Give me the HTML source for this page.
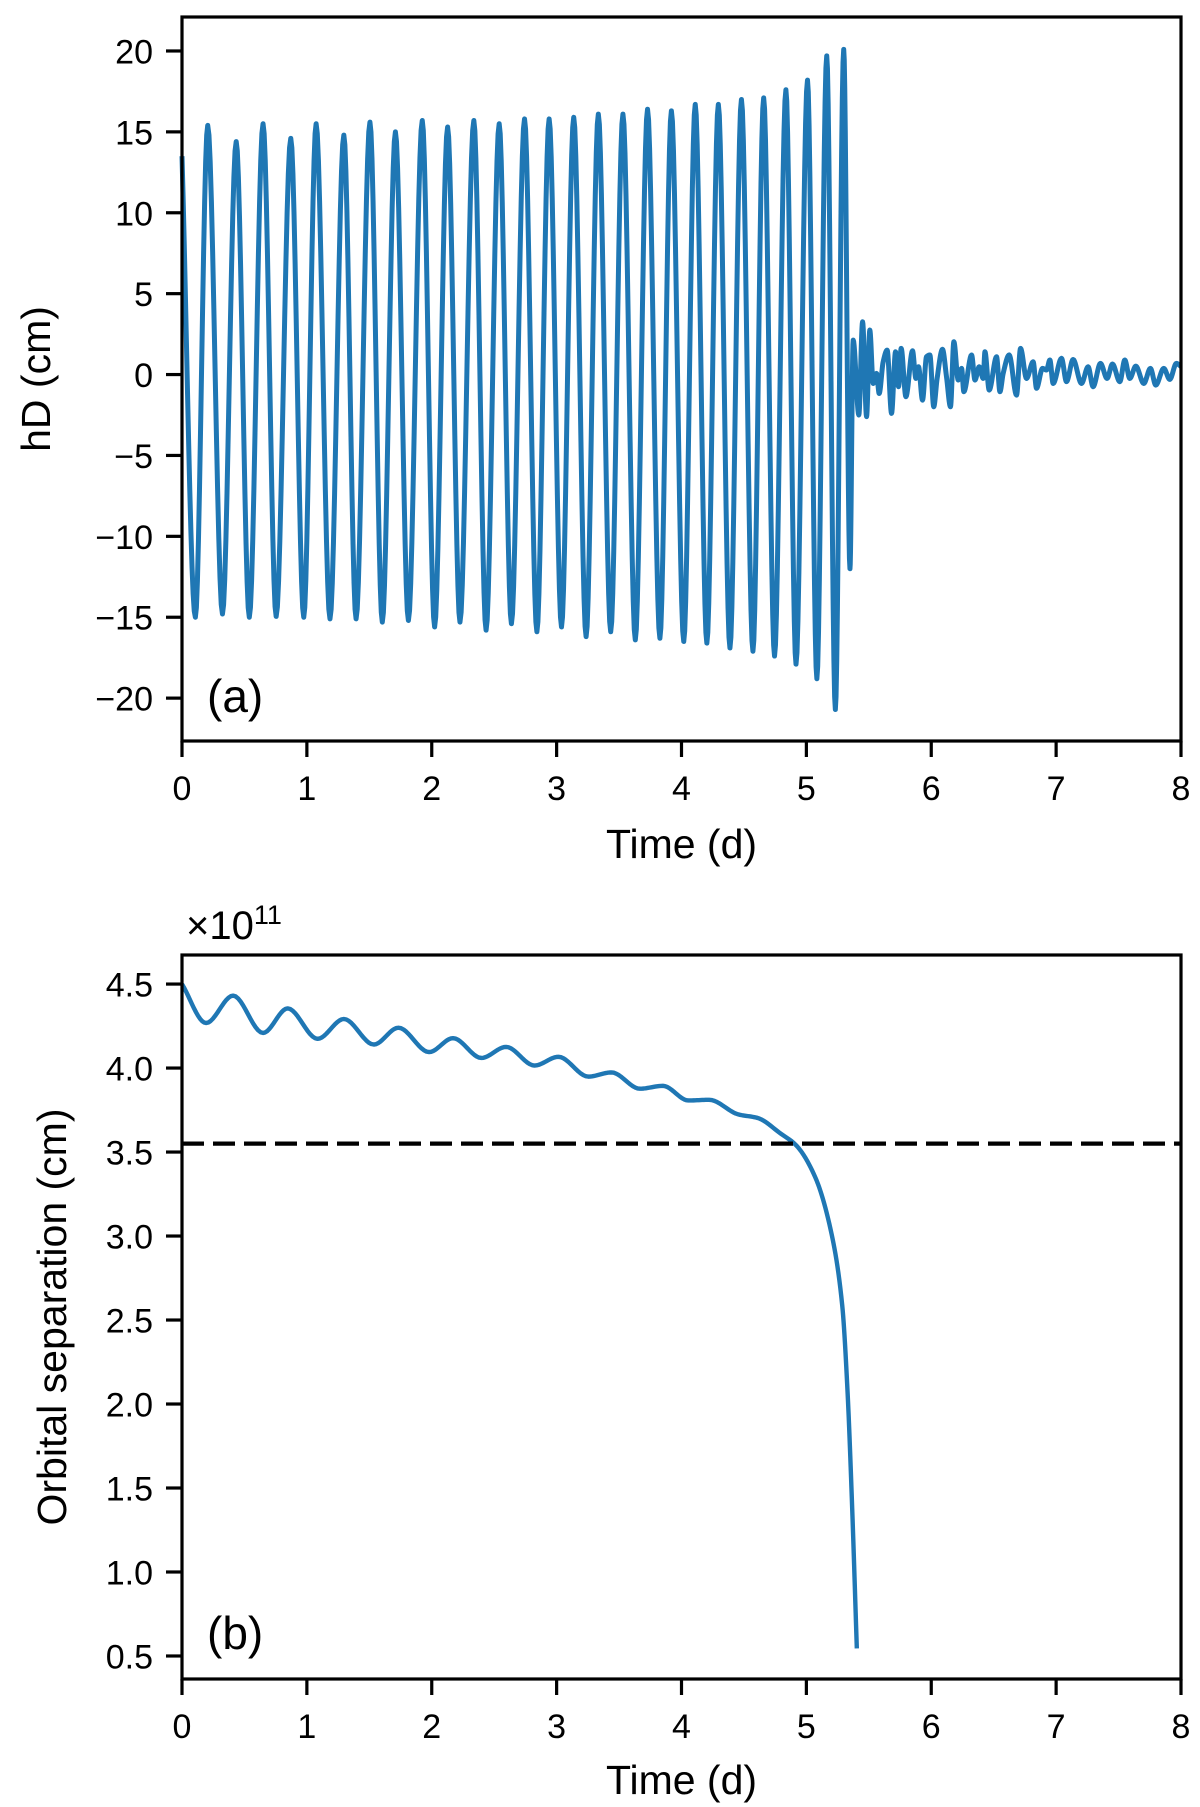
<!DOCTYPE html>
<html><head><meta charset="utf-8"><style>
html,body{margin:0;padding:0;background:#fff}
svg{display:block;font-family:"Liberation Sans",sans-serif}
</style></head><body>
<svg id="chart" width="1200" height="1807" viewBox="0 0 1200 1807"></svg>
<script>
// Panel (a) data: extremes of hD waveform
const aTimes = [0,0.107,0.206,0.324,0.434,0.539,0.649,0.754,0.871,0.975,1.074,1.185,1.296,1.394,1.505,1.604,1.709,1.813,1.924,2.023,2.127,2.226,2.337,2.435,2.540,2.638,2.743,2.842,2.940,3.039,3.137,3.236,3.334,3.433,3.531,3.630,3.728,3.827,3.919,4.018,4.110,4.203,4.295,4.388,4.480,4.572,4.658,4.745,4.836,4.917,5.009,5.084,5.163,5.232,5.299,5.349,
5.375,5.420,5.450,5.482,5.508,5.535,5.562,5.583,5.615,5.647,5.682,5.714,5.738,5.759,5.797,5.850,5.877,5.898,5.930,5.962,5.989,6.020,6.047,6.090,6.122,6.154,6.181,6.216,6.243,6.261,6.323,6.350,6.384,6.416,6.430,6.464,6.523,6.550,6.576,6.624,6.683,6.715,6.763,6.816,6.843,6.891,6.923,6.950,6.976,7.043,7.083,7.136,7.203,7.256,7.296,7.355,7.408,7.451,7.510,7.550,7.590,7.638,7.702,7.755,7.798,7.862,7.910,7.963,8.0];
const aValues = [13.5,-15.0,15.4,-14.8,14.4,-15.0,15.5,-14.95,14.6,-15.0,15.5,-15.1,14.8,-15.1,15.6,-15.3,15.0,-15.2,15.7,-15.6,15.3,-15.3,15.7,-15.8,15.5,-15.4,15.8,-15.9,15.8,-15.6,15.9,-16.2,16.1,-15.9,16.1,-16.4,16.4,-16.3,16.3,-16.5,16.7,-16.6,16.7,-16.9,17.0,-17.1,17.1,-17.4,17.6,-17.9,18.2,-18.8,19.7,-20.7,20.1,-12.0,
2.13,-2.50,3.26,-2.60,2.75,-0.55,0.07,-1.17,0.79,1.51,-2.40,1.41,-0.75,1.62,-1.37,1.47,-0.24,0.48,-1.58,1.10,1.21,-1.99,-0.24,1.56,-0.13,-1.99,2.03,-0.34,0.38,-1.06,1.21,-0.34,0.48,-0.24,1.41,-0.96,1.10,-1.06,0.07,1.21,-1.27,1.62,-0.24,0.79,-0.85,0.38,0.28,0.90,-0.55,1.00,-0.44,0.93,-0.55,0.48,-0.75,0.69,-0.24,0.65,-0.44,0.90,-0.24,0.52,-0.55,0.38,-0.65,0.38,-0.30,0.69,0.5];
const aYTicks = [-20,-15,-10,-5,0,5,10,15,20];
const xTicks = [0,1,2,3,4,5,6,7,8];
// Panel (b) data: orbital separation (x1e11 cm)
const bTimes = [0,0.193,0.409,0.649,0.846,1.086,1.296,1.536,1.733,1.979,2.170,2.398,2.595,2.823,3.014,3.254,3.439,3.667,3.851,4.055,4.221,4.455,4.609,4.794,4.917,5.071,5.194,5.287,5.330,5.367,5.404];
const bValues = [4.5,4.268,4.431,4.209,4.355,4.174,4.292,4.140,4.240,4.095,4.178,4.060,4.126,4.015,4.067,3.949,3.974,3.877,3.894,3.807,3.811,3.724,3.703,3.610,3.541,3.350,3.039,2.588,2.069,1.376,0.545];
const bYTicks = [0.5,1.0,1.5,2.0,2.5,3.0,3.5,4.0,4.5];
const bRef = [3.55];

const NS="http://www.w3.org/2000/svg";
const svg=document.getElementById('chart');
function mk(tag,attrs,parent){const e=document.createElementNS(NS,tag);for(const k in attrs)e.setAttribute(k,attrs[k]);(parent||svg).appendChild(e);return e;}

function monotone(xs,ys,n){
  const m=xs.length, d=[], t=[];
  for(let i=0;i<m-1;i++) d.push((ys[i+1]-ys[i])/(xs[i+1]-xs[i]));
  for(let i=0;i<m;i++){
    if(i===0) t.push(d[0]); else if(i===m-1) t.push(d[m-2]); else t.push(0);
  }
  for(let i=1;i<m-1;i++){ if(d[i-1]*d[i]>0){ const w1=2*(xs[i+1]-xs[i])+(xs[i]-xs[i-1]), w2=(xs[i+1]-xs[i])+2*(xs[i]-xs[i-1]); t[i]=(w1+w2)/(w1/d[i-1]+w2/d[i]); } }
  const out=[];
  for(let i=0;i<m-1;i++){
    const h=xs[i+1]-xs[i];
    for(let k=0;k<n;k++){
      const s=k/n, h00=2*s*s*s-3*s*s+1, h10=s*s*s-2*s*s+s, h01=-2*s*s*s+3*s*s, h11=s*s*s-s*s;
      out.push([xs[i]+s*h, h00*ys[i]+h10*h*t[i]+h01*ys[i+1]+h11*h*t[i+1]]);
    }
  }
  out.push([xs[m-1],ys[m-1]]);
  return out;
}

function panel(cfg){
  const {name,L,R,T,B,ymin,ymax,yTicks,fmt,xs,ys,lw,letter,letterY,ylab,ylabX,xlabY,tickLabY}=cfg;
  const g=mk('g',{});
  
  
  const X=v=>L+(v-0)/(8-0)*(R-L);
  const Y=v=>B-(v-ymin)/(ymax-ymin)*(B-T);
  const pts=monotone(xs,ys,12);
  const line=mk('path',{d:pts.map((p,i)=>(i?'L':'M')+X(p[0]).toFixed(2)+' '+Y(p[1]).toFixed(2)).join(''),fill:'none',stroke:'#1f77b4','stroke-width':lw,'stroke-linejoin':'round'},g);
  
  
  if(cfg.ref){
    cfg.ref.forEach(r=>{
      const dl=mk('line',{x1:L,x2:R,y1:Y(r),y2:Y(r),stroke:'#000','stroke-width':4.2,'stroke-dasharray':'22,9'},g);
      
      
    });
  }
  const frame=mk('rect',{x:L,y:T,width:R-L,height:B-T,fill:'none',stroke:'#000','stroke-width':3.2},g);
  
  
  yTicks.forEach(v=>{
    const tk=mk('line',{x1:L-16,x2:L,y1:Y(v),y2:Y(v),stroke:'#000','stroke-width':3.2},g);
    
    
    const tl=mk('text',{x:L-29,y:Y(v)+12.5,'text-anchor':'end','font-size':34},g);
    tl.textContent=fmt(v);
    
    
  });
  xTicks.forEach(v=>{
    const tk=mk('line',{x1:X(v),x2:X(v),y1:B,y2:B+16,stroke:'#000','stroke-width':3.2},g);
    
    
    const tl=mk('text',{x:X(v),y:tickLabY,'text-anchor':'middle','font-size':34},g);
    tl.textContent=String(v);
    
    
  });
  const xl=mk('text',{x:(L+R)/2,y:xlabY,'text-anchor':'middle','font-size':41},g);
  xl.textContent='Time (d)';
  
  
  const yl=mk('text',{x:0,y:0,'text-anchor':'middle','font-size':41,transform:`translate(${ylabX},${(T+B)/2}) rotate(-90)`},g);
  yl.textContent=ylab;
  
  
  const pl=mk('text',{x:207,y:letterY,'font-size':46},g);
  pl.textContent=letter;
  
  
  return g;
}

panel({name:'panel-a',L:182,R:1181,T:17,B:741,ymin:-22.65,ymax:22.1,yTicks:aYTicks,
  fmt:v=>v<0?'\u2212'+Math.abs(v):String(v),xs:aTimes,ys:aValues,lw:5,letter:'(a)',letterY:712,
  ylab:'hD (cm)',ylabX:50,xlabY:858,tickLabY:800});
panel({name:'panel-b',L:182,R:1181,T:955,B:1679,ymin:0.363,ymax:4.673,yTicks:bYTicks,
  fmt:v=>v.toFixed(1),xs:bTimes,ys:bValues,lw:4.4,letter:'(b)',letterY:1649,ref:bRef,
  ylab:'Orbital separation (cm)',ylabX:66,xlabY:1794,tickLabY:1738});
const off=mk('text',{x:186,y:939,'font-size':40});
off.innerHTML='\u00d710<tspan dy="-15" font-size="27">11</tspan>';


</script>
</body></html>
